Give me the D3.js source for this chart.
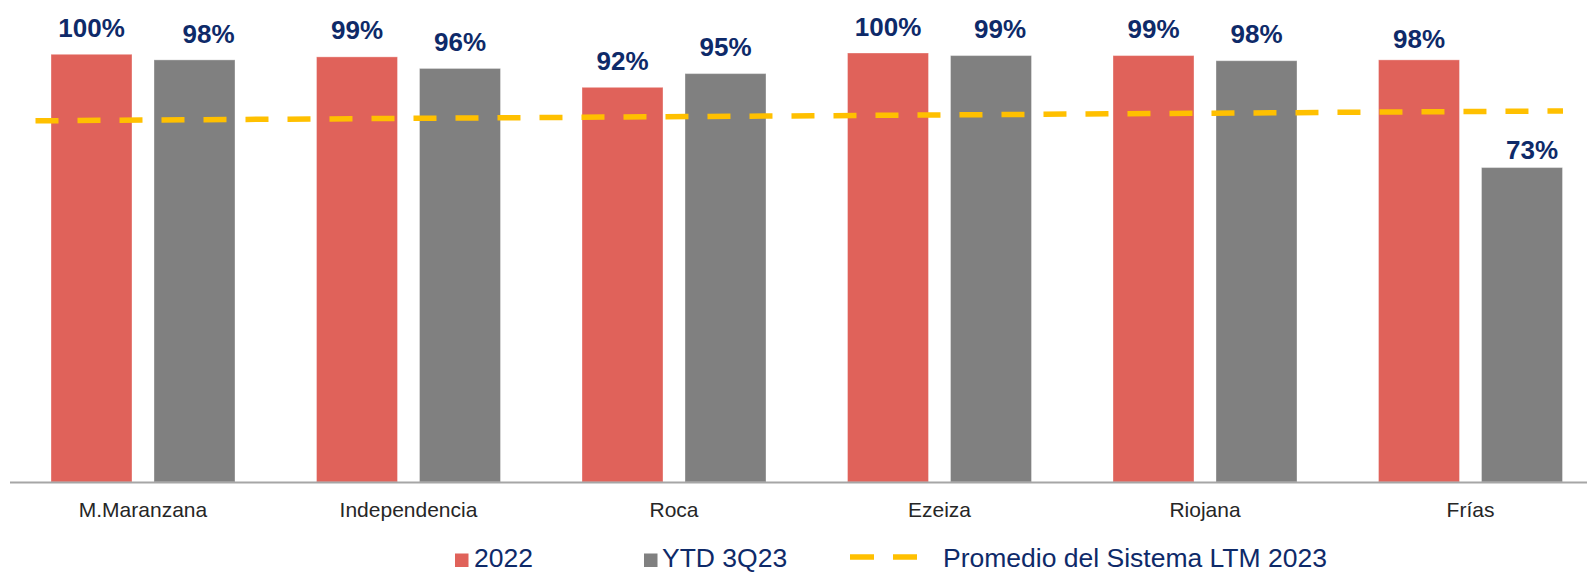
<!DOCTYPE html>
<html>
<head>
<meta charset="utf-8">
<script src="https://cdn.jsdelivr.net/npm/d3@7"></script>
<style>
  html, body { margin: 0; padding: 0; background: #fff; }
  svg { display: block; font-family: "Liberation Sans", Arial, sans-serif; }
</style>
</head>
<body>
<svg id="chart" width="1587" height="573"></svg>
<script>
// ---- data ----
const categories = ["M.Maranzana", "Independencia", "Roca", "Ezeiza", "Riojana", "Frías"];
const seriesNames = ["2022", "YTD 3Q23"];
const values2022 = [0.997, 0.991, 0.920, 1.000, 0.994, 0.984];
const valuesYTD = [0.984, 0.964, 0.952, 0.994, 0.982, 0.733];
const avgLineName = "Promedio del Sistema LTM 2023";
const avgLineValues = [0.842, 0.865]; // start, end

// ---- layout / style ----
const W = 1587, H = 573;
const colors = { "2022": "#E0625A", "YTD 3Q23": "#808080" };
const navy = "#0E2A69";
const avgColor = "#FFC000";
// manual label nudges (dx, dy) seen in the reference
const labelNudge = {
  "YTD 3Q23|M.Maranzana": [14, 1],
  "YTD 3Q23|Ezeiza": [9, 0],
  "2022|Frías": [0, 6],
  "YTD 3Q23|Frías": [10, 9]
};

const svg = d3.select("#chart");

const x0 = d3.scaleBand().domain(categories).range([10.25, 10.25 + 6 * 265.5]).padding(0);
const x1 = d3.scaleBand().domain(seriesNames).range([0, x0.bandwidth()])
  .paddingInner(22 / 103).paddingOuter(40.75 / 103);
const y = d3.scaleLinear().domain([0, 1]).range([482, 53]);

const rows = categories.map((c, i) => ({
  cat: c,
  vals: [
    { s: "2022", v: values2022[i] },
    { s: "YTD 3Q23", v: valuesYTD[i] }
  ]
}));

// bars
const g = svg.append("g");
const groups = g.selectAll("g.cat").data(rows).join("g")
  .attr("class", "cat")
  .attr("transform", d => `translate(${x0(d.cat)},0)`);

groups.selectAll("rect").data(d => d.vals).join("rect")
  .attr("x", d => x1(d.s))
  .attr("y", d => y(d.v))
  .attr("width", x1.bandwidth())
  .attr("height", d => y(0) - y(d.v))
  .attr("fill", d => colors[d.s])
  .attr("stroke", "#ffffff")
  .attr("stroke-opacity", 0.35)
  .attr("stroke-width", 1);

// x axis line
const xAxis = d3.axisBottom(x0).tickSize(0).tickPadding(0);
const axG = svg.append("g").attr("transform", `translate(0,${y(0)})`).call(xAxis);
axG.select(".domain").remove();
axG.selectAll("text").remove();
svg.append("line")
  .attr("x1", 10).attr("x2", W)
  .attr("y1", y(0) + 0.5).attr("y2", y(0) + 0.5)
  .attr("stroke", "#A6A6A6").attr("stroke-width", 2);

// category labels
svg.append("g").selectAll("text").data(categories).join("text")
  .attr("x", d => x0(d) + x0.bandwidth() / 2)
  .attr("y", 517)
  .attr("text-anchor", "middle")
  .attr("font-size", 21)
  .attr("fill", "#262626")
  .text(d => d);

// average dashed line
const xLine = d3.scalePoint().domain(["start", "end"]).range([35.5, 1563]);
const lineGen = d3.line().x((d, i) => xLine(i === 0 ? "start" : "end")).y(d => y(d));
svg.append("path")
  .datum(avgLineValues)
  .attr("d", lineGen)
  .attr("fill", "none")
  .attr("stroke", avgColor)
  .attr("stroke-width", 5.5)
  .attr("stroke-dasharray", "23,19");

// data labels
groups.selectAll("text.lbl").data(d => d.vals.map(v => ({ ...v, cat: d.cat }))).join("text")
  .attr("class", "lbl")
  .attr("x", d => x1(d.s) + x1.bandwidth() / 2 + ((labelNudge[d.s + "|" + d.cat] || [0, 0])[0]))
  .attr("y", d => y(d.v) - 17.5 + ((labelNudge[d.s + "|" + d.cat] || [0, 0])[1]))
  .attr("text-anchor", "middle")
  .attr("font-size", 26)
  .attr("font-weight", "bold")
  .attr("fill", navy)
  .text(d => d3.format(".0%")(d.v));

// legend
const leg = svg.append("g");
const legY = 567;
const legItems = [
  { name: seriesNames[0], type: "rect", x: 455, tx: 474 },
  { name: seriesNames[1], type: "rect", x: 644, tx: 662 },
  { name: avgLineName, type: "line", x: 850, tx: 943 }
];
legItems.forEach(it => {
  if (it.type === "rect") {
    leg.append("rect").attr("x", it.x).attr("y", legY - 13.5).attr("width", 13.5).attr("height", 13.5)
      .attr("fill", colors[it.name]);
  } else {
    leg.append("line").attr("x1", it.x).attr("x2", it.x + 67)
      .attr("y1", legY - 10).attr("y2", legY - 10)
      .attr("stroke", avgColor).attr("stroke-width", 5.5)
      .attr("stroke-dasharray", "24,19");
  }
  leg.append("text").attr("x", it.tx).attr("y", legY)
    .attr("font-size", 26.5).attr("fill", navy).text(it.name);
});
</script>
</body>
</html>
